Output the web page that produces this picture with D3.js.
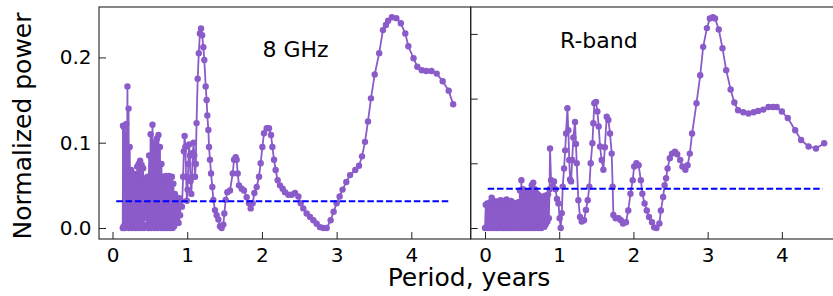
<!DOCTYPE html>
<html>
<head>
<meta charset="utf-8">
<script src="https://cdn.jsdelivr.net/npm/d3@7"></script>
<style>
  body { margin: 0; background: #fff; }
  svg { display: block; }
</style>
</head>
<body>
<svg id="chart"></svg>
<script>
// 8 GHz periodogram: short periods (densely sampled) and long periods
const ghzShort = [
  [0.137,0.000],[0.140,0.120],[0.150,0.002],[0.155,0.118],[0.160,0.000],[0.170,0.110],[0.175,0.001],
  [0.185,0.122],[0.190,0.003],[0.200,0.166],[0.205,0.001],[0.215,0.140],[0.220,0.000],[0.230,0.095],
  [0.240,0.002],[0.250,0.068],[0.260,0.000],[0.270,0.064],[0.280,0.004],[0.290,0.058],[0.300,0.000],
  [0.310,0.063],[0.320,0.002],[0.330,0.072],[0.340,0.000],[0.350,0.075],[0.360,0.003],[0.370,0.079],
  [0.380,0.000],[0.390,0.074],[0.400,0.002],[0.410,0.070],[0.420,0.000],[0.430,0.058],[0.440,0.012],
  [0.450,0.055],[0.460,0.004],[0.470,0.060],[0.480,0.000],[0.490,0.085],[0.500,0.002],[0.510,0.110],
  [0.520,0.000],[0.535,0.121],[0.545,0.003],[0.555,0.100],[0.565,0.000],[0.575,0.095],[0.585,0.002],
  [0.595,0.105],[0.605,0.000],[0.615,0.109],[0.625,0.004],[0.635,0.095],[0.645,0.000],[0.655,0.075],
  [0.665,0.003],[0.675,0.060],[0.685,0.000],[0.695,0.058],[0.705,0.002],[0.715,0.061],[0.725,0.000],
  [0.735,0.060],[0.745,0.004],[0.755,0.061],[0.765,0.000],[0.775,0.059],[0.785,0.003],[0.795,0.060],
  [0.805,0.000],[0.815,0.052],[0.825,0.002],[0.835,0.040],[0.845,0.008],[0.855,0.036],[0.865,0.010],
  [0.875,0.033],[0.885,0.006],[0.895,0.035],[0.905,0.015],[0.915,0.032],[0.930,0.025]
];
const ghzLong = [
  [0.945,0.060],[0.955,0.090],[0.965,0.108],[0.975,0.095],[0.985,0.060],[0.995,0.032],[1.005,0.045],
  [1.015,0.075],[1.025,0.098],[1.035,0.085],[1.045,0.055],[1.055,0.040],[1.065,0.060],[1.075,0.088],
  [1.085,0.100],[1.095,0.085],[1.105,0.060],[1.115,0.075],[1.125,0.123],[1.140,0.175],[1.155,0.205],
  [1.170,0.228],[1.185,0.234],[1.200,0.226],[1.216,0.212],[1.229,0.197],[1.247,0.166],[1.260,0.150],
  [1.269,0.132],[1.283,0.115],[1.292,0.095],[1.305,0.080],[1.319,0.064],[1.336,0.048],[1.350,0.033],
  [1.372,0.021],[1.394,0.015],[1.417,0.010],[1.439,0.002],[1.461,0.000],[1.484,0.004],[1.497,0.017],
  [1.515,0.033],[1.537,0.042],[1.573,0.044],[1.609,0.064],[1.627,0.080],[1.649,0.083],[1.662,0.080],
  [1.676,0.064],[1.693,0.050],[1.729,0.046],[1.760,0.044],[1.796,0.036],[1.827,0.029],[1.850,0.023],
  [1.876,0.029],[1.899,0.041],[1.930,0.048],[1.961,0.060],[1.983,0.076],[2.006,0.095],[2.028,0.111],
  [2.064,0.117],[2.095,0.117],[2.122,0.109],[2.140,0.095],[2.162,0.080],[2.184,0.068],[2.211,0.056],
  [2.242,0.050],[2.278,0.046],[2.309,0.042],[2.354,0.039],[2.399,0.039],[2.443,0.041],[2.488,0.037],
  [2.519,0.029],[2.554,0.023],[2.599,0.017],[2.644,0.013],[2.689,0.009],[2.733,0.005],[2.778,0.001],
  [2.822,0.000],[2.867,0.000],[2.920,0.009],[2.960,0.019],[3.000,0.029],[3.040,0.037],[3.080,0.045],
  [3.130,0.054],[3.180,0.062],[3.250,0.068],[3.300,0.073],[3.340,0.084],[3.380,0.101],[3.420,0.125],
  [3.460,0.152],[3.510,0.180],[3.570,0.205],[3.620,0.232],[3.660,0.238],[3.690,0.243],[3.740,0.247],
  [3.800,0.246],[3.860,0.240],[3.920,0.228],[3.960,0.213],[4.030,0.199],[4.080,0.189],[4.140,0.185],
  [4.200,0.184],[4.270,0.184],[4.340,0.181],[4.420,0.172],[4.500,0.161],[4.560,0.145]
];

// R-band periodogram
const rShort = [
  [0.00,0.000],[0.01,0.036],[0.02,0.001],[0.03,0.038],[0.04,0.000],[0.05,0.035],[0.06,0.002],
  [0.07,0.040],[0.08,0.000],[0.09,0.047],[0.10,0.003],[0.11,0.042],[0.12,0.000],[0.13,0.040],
  [0.14,0.002],[0.15,0.041],[0.16,0.000],[0.17,0.038],[0.18,0.003],[0.19,0.041],[0.20,0.000],
  [0.21,0.043],[0.22,0.002],[0.23,0.039],[0.24,0.000],[0.25,0.042],[0.26,0.004],[0.27,0.040],
  [0.28,0.000],[0.29,0.044],[0.30,0.002],[0.31,0.041],[0.32,0.000],[0.33,0.037],[0.34,0.003],
  [0.35,0.042],[0.36,0.000],[0.37,0.040],[0.38,0.002],[0.39,0.036],[0.40,0.000],[0.41,0.038],
  [0.42,0.003],[0.43,0.035],[0.44,0.000],[0.45,0.040],[0.46,0.002],[0.47,0.058],[0.48,0.000],
  [0.49,0.074],[0.50,0.004],[0.51,0.060],[0.52,0.000],[0.53,0.055],[0.54,0.002],[0.55,0.057],
  [0.56,0.000],[0.57,0.050],[0.58,0.003],[0.59,0.055],[0.60,0.000],[0.61,0.058],[0.62,0.002],
  [0.63,0.066],[0.64,0.000],[0.65,0.070],[0.66,0.004],[0.67,0.060],[0.68,0.000],[0.69,0.054],
  [0.70,0.002],[0.71,0.052],[0.72,0.000],[0.73,0.050],[0.74,0.003],[0.75,0.046],[0.76,0.000],
  [0.77,0.048],[0.78,0.005],[0.79,0.044],[0.80,0.002],[0.81,0.050],[0.82,0.006],[0.83,0.046],
  [0.84,0.010],[0.85,0.052],[0.86,0.015],[0.87,0.060]
];
const rLong = [
  [0.876,0.123],[0.890,0.074],[0.910,0.064],[0.930,0.072],[0.950,0.060],[0.970,0.045],[0.990,0.038],
  [1.005,0.015],[1.020,0.000],[1.035,0.023],[1.047,0.064],[1.065,0.092],[1.080,0.120],[1.092,0.146],
  [1.110,0.185],[1.123,0.151],[1.135,0.105],[1.146,0.075],[1.160,0.072],[1.175,0.105],[1.190,0.140],
  [1.213,0.164],[1.225,0.130],[1.236,0.100],[1.258,0.043],[1.280,0.017],[1.303,0.010],[1.334,0.012],
  [1.361,0.028],[1.384,0.043],[1.406,0.064],[1.424,0.100],[1.447,0.131],[1.460,0.162],[1.473,0.193],
  [1.496,0.195],[1.514,0.180],[1.532,0.157],[1.550,0.126],[1.572,0.105],[1.595,0.090],[1.615,0.125],
  [1.640,0.172],[1.662,0.167],[1.685,0.146],[1.707,0.115],[1.720,0.064],[1.730,0.020],[1.760,0.015],
  [1.800,0.015],[1.830,0.012],[1.860,0.007],[1.900,0.009],[1.930,0.027],[1.960,0.053],[1.990,0.074],
  [2.010,0.095],[2.040,0.100],[2.070,0.097],[2.100,0.074],[2.120,0.053],[2.150,0.038],[2.180,0.027],
  [2.210,0.017],[2.250,0.009],[2.280,0.001],[2.310,0.000],[2.350,0.007],[2.370,0.027],[2.400,0.048],
  [2.420,0.066],[2.440,0.077],[2.460,0.092],[2.490,0.108],[2.520,0.115],[2.560,0.118],[2.590,0.114],
  [2.630,0.105],[2.660,0.095],[2.700,0.090],[2.730,0.097],[2.760,0.115],[2.790,0.146],[2.850,0.193],
  [2.900,0.236],[2.940,0.280],[2.990,0.309],[3.030,0.324],[3.070,0.326],[3.100,0.324],[3.150,0.307],
  [3.200,0.278],[3.250,0.244],[3.310,0.214],[3.360,0.194],[3.410,0.182],[3.480,0.179],[3.550,0.177],
  [3.620,0.179],[3.680,0.181],[3.750,0.183],[3.820,0.187],[3.880,0.187],[3.930,0.187],[4.000,0.180],
  [4.080,0.170],[4.180,0.151],[4.260,0.136],[4.360,0.126],[4.460,0.123],[4.570,0.131]
];

// significance levels (dashed)
const ghzLevel = [[0.05,0.0313],[4.52,0.0313]];
const rLevel = [[0.036,0.0607],[4.55,0.0607]];

// ticks
const xTicks = [0, 1, 2, 3, 4];
const ghzYTicks = [0, 0.1, 0.2];
const ghzYLabels = ["0.0", "0.1", "0.2"];
const rYTicks = [0, 0.1, 0.2, 0.3];

const width = 833, height = 296;
const plotTop = 7, plotBottom = 239;
const purple = "#8a5bc9";

const svg = d3.select("#chart")
    .attr("width", width)
    .attr("height", height);

svg.append("rect").attr("width", width).attr("height", height).attr("fill", "#fff");

function drawPanel(p) {
    const x = d3.scaleLinear().domain(p.xDomain).range([p.left, p.right]);
    const y = d3.scaleLinear().domain(p.yDomain).range([plotBottom, plotTop]);

    const clipId = "clip-" + p.name;
    svg.append("clipPath").attr("id", clipId)
        .append("rect")
        .attr("x", p.left).attr("y", plotTop)
        .attr("width", p.right - p.left).attr("height", plotBottom - plotTop);

    const g = svg.append("g").attr("clip-path", `url(#${clipId})`);

    const series = p.short.concat(p.long);
    const line = d3.line().x(d => x(d[0])).y(d => y(d[1]));

    g.append("path")
        .datum(series)
        .attr("fill", "none")
        .attr("stroke", purple)
        .attr("stroke-width", 1.8)
        .attr("stroke-linejoin", "round")
        .attr("d", line);

    g.append("g")
        .selectAll("circle")
        .data(series)
        .join("circle")
        .attr("cx", d => x(d[0]))
        .attr("cy", d => y(d[1]))
        .attr("r", 3.2)
        .attr("fill", purple);

    g.append("path")
        .datum(p.level)
        .attr("fill", "none")
        .attr("stroke", "#0000ff")
        .attr("stroke-width", 1.9)
        .attr("stroke-dasharray", "6.5,2.8")
        .attr("d", line);

    // axes with inward ticks
    const xAxis = svg.append("g")
        .attr("transform", `translate(0,${plotBottom})`)
        .call(d3.axisBottom(x).tickValues(xTicks).tickFormat(d3.format("d"))
            .tickSizeInner(-7).tickSizeOuter(0).tickPadding(9));
    xAxis.select(".domain").remove();

    const yAxis = svg.append("g")
        .attr("transform", `translate(${p.left},0)`)
        .call(d3.axisLeft(y).tickValues(p.yTicks)
            .tickFormat((d, i) => p.yLabels ? p.yLabels[i] : "")
            .tickSizeInner(-7).tickSizeOuter(0).tickPadding(7.5));
    yAxis.select(".domain").remove();

    [xAxis, yAxis].forEach(a => {
        a.attr("font-family", "DejaVu Sans, sans-serif")
            .attr("font-size", 20)
            .attr("color", "#222");
        a.selectAll("text").attr("fill", "#000");
        a.selectAll("line").attr("stroke-width", 1);
    });

    // frame
    svg.append("rect")
        .attr("x", p.left).attr("y", plotTop)
        .attr("width", p.right - p.left).attr("height", plotBottom - plotTop)
        .attr("fill", "none")
        .attr("stroke", "#222")
        .attr("stroke-width", 1.1);

    svg.append("text")
        .attr("x", p.labelX).attr("y", p.labelY)
        .attr("font-family", "DejaVu Sans, sans-serif")
        .attr("font-size", 22)
        .attr("fill", "#000")
        .text(p.label);
}

drawPanel({
    name: "ghz", left: 99, right: 470.7,
    xDomain: [-0.181, 4.795], yDomain: [-0.0129, 0.2591],
    short: ghzShort, long: ghzLong, level: ghzLevel,
    yTicks: ghzYTicks, yLabels: ghzYLabels,
    label: "8 GHz", labelX: 262.5, labelY: 57.3
});

drawPanel({
    name: "rband", left: 470.7, right: 842.4,
    xDomain: [-0.193, 4.816], yDomain: [-0.017, 0.3416],
    short: rShort, long: rLong, level: rLevel,
    yTicks: rYTicks, yLabels: null,
    label: "R-band", labelX: 560, labelY: 47.7
});

svg.append("text")
    .attr("transform", "translate(31,126) rotate(-90)")
    .attr("text-anchor", "middle")
    .attr("font-family", "DejaVu Sans, sans-serif")
    .attr("font-size", 25)
    .attr("fill", "#000")
    .text("Normalized power");

svg.append("text")
    .attr("x", 469).attr("y", 285.5)
    .attr("text-anchor", "middle")
    .attr("font-family", "DejaVu Sans, sans-serif")
    .attr("font-size", 25)
    .attr("fill", "#000")
    .text("Period, years");
</script>
</body>
</html>
